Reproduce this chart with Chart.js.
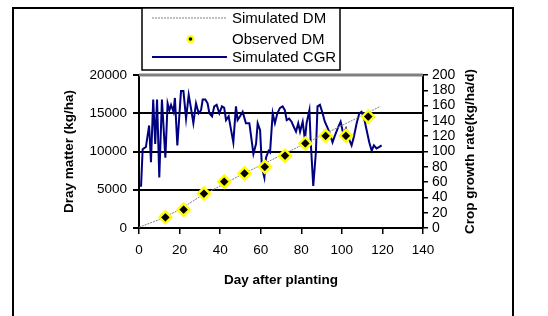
<!DOCTYPE html>
<html>
<head>
<meta charset="utf-8">
<script src="https://cdn.jsdelivr.net/npm/chart.js@4.4.0/dist/chart.umd.min.js"></script>
<style>
  html, body { margin: 0; padding: 0; background: #fff; }
  #wrap { width: 548px; height: 316px; }
</style>
</head>
<body>
<div id="wrap"><canvas id="myChart" width="548" height="316"></canvas></div>
<script>
// simulated dry matter (kg/ha)
let simDays = [0, 10, 20, 30, 40, 50, 60, 70, 80, 90, 100, 110, 119];
let simDM = [100, 1100, 2400, 4100, 5500, 6900, 8200, 9500, 10800, 12100, 13400, 14700, 15900];

// observed dry matter (kg/ha)
let obsDays = [13, 22, 32, 42, 52, 62, 72, 82, 92, 102, 113];
let obsDM = [1400, 2400, 4500, 6050, 7150, 8000, 9450, 11050, 12050, 12050, 14550];

// simulated crop growth rate (kg/ha/d)
let cgrDays = [1, 1.8, 3.4, 5, 5.9, 7, 8, 8.9, 10, 11.3, 13, 14.1, 15, 15.8, 17, 17.7, 18.9,
  20.7, 21.9, 23.2, 24.5, 25.6, 26.8, 28.1, 29.4, 30.6, 31.4, 32.7, 33.8, 34.7, 36, 37.1,
  38.3, 39.6, 40.9, 42, 42.9, 44.2, 45.4, 46.5, 47.8, 48.6, 49.8, 51.1, 52.7, 54.4, 55.2,
  56.4, 57.7, 58.5, 59.7, 60.6, 61.8, 62.6, 63.9, 64.6, 65.9, 67, 68.2, 69.5, 70.8, 71.9,
  72.8, 74, 75.2, 76, 77.4, 78.5, 79.4, 80.7, 81.8, 82.6, 84, 84.6, 85.9, 87.2, 88, 89.2,
  90.5, 91.6, 92.8, 94.1, 95.4, 96.6, 98.2, 99.4, 100.7, 102, 103.1, 104.8, 105.9, 107.3,
  108.6, 109.7, 111, 112.2, 113.5, 114.7, 115.8, 117.1, 118.5, 119.6];
let cgr = [54, 103, 106, 134, 86, 168, 110, 168, 66, 168, 92, 163, 154, 161, 152, 170, 108,
  179, 179, 143, 174, 157, 137, 163, 150, 154, 168, 168, 163, 150, 146, 159,
  161, 150, 159, 157, 141, 146, 128, 112, 159, 141, 146, 152, 137, 137, 121,
  97, 110, 137, 128, 79, 66, 92, 101, 99, 150, 137, 150, 157, 159, 154,
  141, 143, 139, 134, 126, 137, 126, 139, 115, 137, 154, 115, 55, 99, 159, 161,
  150, 139, 132, 123, 112, 121, 132, 139, 123, 130, 119, 108, 119, 137,
  150, 152, 143, 128, 112, 101, 108, 104, 106, 108];

let xTicks = [0, 20, 40, 60, 80, 100, 120, 140];
let labels = ['Simulated DM', 'Observed DM', 'Simulated CGR'];
let xTitle = 'Day after planting';
let yTitle = 'Dray matter (kg/ha)';
let y1Title = 'Crop growth rate(kg/ha/d)';

const FONT = "'Liberation Sans', Arial, sans-serif";

function pts(xs, ys) {
  return xs.map((x, i) => ({x: x, y: ys[i]}));
}

const decor = {
  id: 'decor',
  beforeDraw(chart) {
    const ctx = chart.ctx;
    ctx.save();
    ctx.fillStyle = '#fff';
    ctx.fillRect(0, 0, chart.width, chart.height);
    ctx.strokeStyle = '#000';
    ctx.lineWidth = 2;
    ctx.beginPath();
    ctx.moveTo(13, 330);
    ctx.lineTo(13, 8);
    ctx.lineTo(513, 8);
    ctx.lineTo(513, 330);
    ctx.stroke();
    ctx.restore();
  },
  beforeDatasetsDraw(chart) {
    const ctx = chart.ctx;
    const a = chart.chartArea;
    ctx.save();
    ctx.strokeStyle = '#808080';
    ctx.lineWidth = 3;
    ctx.beginPath();
    ctx.moveTo(a.left, a.top);
    ctx.lineTo(a.right, a.top);
    ctx.stroke();
    ctx.restore();
  },
  afterDraw(chart) {
    const ctx = chart.ctx;
    const a = chart.chartArea;
    ctx.save();
    // right axis title, reading bottom to top
    ctx.translate(470, (a.top + a.bottom) / 2);
    ctx.rotate(-Math.PI / 2);
    ctx.font = 'bold 13.5px ' + FONT;
    ctx.fillStyle = '#000';
    ctx.textAlign = 'center';
    ctx.textBaseline = 'middle';
    ctx.fillText(y1Title, 0, 0);
    ctx.restore();

    // legend box
    ctx.save();
    ctx.fillStyle = '#fff';
    ctx.fillRect(142, 8, 198, 62);
    ctx.strokeStyle = '#000';
    ctx.lineWidth = 1.5;
    ctx.strokeRect(142, 8, 198, 62);
    const rows = [18, 39, 57];
    ctx.font = '15px ' + FONT;
    ctx.fillStyle = '#000';
    ctx.textAlign = 'left';
    ctx.textBaseline = 'middle';
    labels.forEach((t, i) => ctx.fillText(t, 232, rows[i] + 1));
    ctx.strokeStyle = '#808080';
    ctx.lineWidth = 1;
    ctx.setLineDash([2, 1]);
    ctx.beginPath();
    ctx.moveTo(152, rows[0]);
    ctx.lineTo(227, rows[0]);
    ctx.stroke();
    ctx.setLineDash([]);
    ctx.strokeStyle = '#000080';
    ctx.lineWidth = 2;
    ctx.beginPath();
    ctx.moveTo(152, rows[2]);
    ctx.lineTo(227, rows[2]);
    ctx.stroke();
    ctx.fillStyle = '#ffff00';
    ctx.beginPath();
    ctx.arc(190.5, rows[1], 4, 0, Math.PI * 2);
    ctx.fill();
    ctx.fillStyle = '#000';
    ctx.beginPath();
    ctx.arc(190.5, rows[1], 1.8, 0, Math.PI * 2);
    ctx.fill();
    ctx.restore();
  }
};

var ctx = document.getElementById('myChart').getContext('2d');
var myChart = new Chart(ctx, {
  type: 'scatter',
  data: {
    datasets: [
      {
        label: labels[1],
        data: pts(obsDays, obsDM),
        yAxisID: 'y',
        showLine: false,
        pointStyle: 'rectRot',
        pointRadius: 6,
        backgroundColor: '#000',
        borderColor: '#ffff00',
        borderWidth: 2.5,
        order: 0
      },
      {
        label: labels[0],
        data: pts(simDays, simDM),
        yAxisID: 'y',
        showLine: true,
        pointRadius: 0,
        borderColor: '#808080',
        borderWidth: 1,
        borderDash: [2, 1],
        order: 1
      },
      {
        label: labels[2],
        data: pts(cgrDays, cgr),
        yAxisID: 'y1',
        showLine: true,
        pointRadius: 0,
        borderColor: '#000080',
        borderWidth: 2,
        tension: 0,
        order: 2
      }
    ]
  },
  options: {
    responsive: false,
    animation: false,
    devicePixelRatio: 1,
    layout: { padding: { left: 50, right: 60, top: 75, bottom: 20 } },
    plugins: {
      legend: { display: false },
      tooltip: { enabled: false }
    },
    scales: {
      x: {
        type: 'linear',
        position: 'bottom',
        min: 0,
        max: 140,
        afterFit: s => { s.height = 68; },
        afterBuildTicks: s => { s.ticks = xTicks.map(v => ({value: v})); },
        ticks: { color: '#000', font: { family: FONT, size: 13.5 }, padding: 8, maxRotation: 0, autoSkip: false },
        grid: { drawOnChartArea: false, color: '#000', lineWidth: 1.5, tickLength: 6 },
        border: { color: '#000', width: 2 },
        title: { display: true, text: xTitle, color: '#000', font: { family: FONT, size: 13.5, weight: 'bold' }, padding: { bottom: 8 } }
      },
      y: {
        position: 'left',
        min: 0,
        max: 20000,
        afterFit: s => { s.width = 89; },
        ticks: { stepSize: 5000, color: '#000', font: { family: FONT, size: 13.5 }, padding: 6, callback: v => String(v) },
        grid: { color: '#000', lineWidth: 2, tickLength: 6 },
        border: { color: '#000', width: 2 },
        title: { display: true, text: yTitle, color: '#000', font: { family: FONT, size: 13.5, weight: 'bold' }, padding: { top: 11 } }
      },
      y1: {
        position: 'right',
        min: 0,
        max: 200,
        afterFit: s => { s.width = 65; },
        ticks: { stepSize: 20, color: '#000', font: { family: FONT, size: 14 }, padding: 4, autoSkip: false, callback: v => String(v) },
        grid: { drawOnChartArea: false, color: '#000', lineWidth: 1.5, tickLength: 5 },
        border: { color: '#000', width: 2 }
      }
    }
  },
  plugins: [decor]
});
</script>
</body>
</html>
